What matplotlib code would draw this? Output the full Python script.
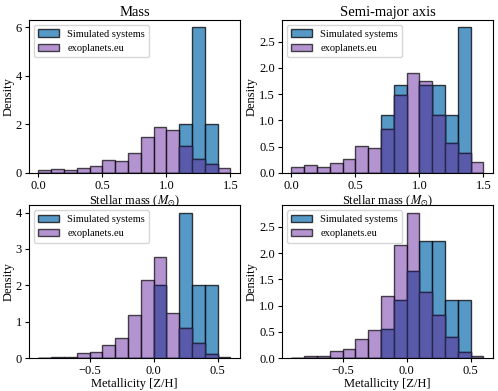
import numpy as np
import matplotlib
matplotlib.use("Agg")
import matplotlib.pyplot as plt

plt.rcParams['font.family'] = ['Liberation Serif', 'DejaVu Serif']
plt.rcParams['mathtext.fontset'] = 'stix'

# ---- data ----
mass_edges = np.round(np.arange(0.0, 1.51, 0.1), 2)
met_edges = np.round(np.arange(-0.9, 0.61, 0.1), 2)

# exoplanets.eu stellar mass density (same in both top panels)
exo_mass = [0.11, 0.14, 0.12, 0.18, 0.27, 0.51, 0.48, 0.83, 1.48, 1.90, 1.75, 1.11, 0.57, 0.37, 0.21]
# simulated systems, stellar mass: "Mass" panel
sim_mass_mass = [0, 0, 0, 0, 0, 0, 0, 0, 0, 0, 0, 2.0, 6.0, 2.0, 0]
# simulated systems, stellar mass: "Semi-major axis" panel
sim_mass_sma = [0, 0, 0, 0, 0, 0, 0, 1.111, 1.667, 0, 1.667, 1.667, 1.111, 2.778, 0]

# exoplanets.eu metallicity density
exo_met = [0.01, 0.04, 0.04, 0.14, 0.17, 0.36, 0.54, 1.19, 2.15, 2.77, 1.25, 0.83, 0.41, 0.12, 0.04]
# simulated systems metallicity
sim_met_mass = [0, 0, 0, 0, 0, 0, 0, 0, 0, 2.0, 0, 4.0, 2.0, 2.0, 0]
sim_met_sma = [0, 0, 0, 0, 0, 0, 0, 0.556, 1.111, 1.667, 2.222, 2.222, 1.111, 1.111, 0]

titles = ["Mass", "Semi-major axis"]
xlabel_top = r"Stellar mass ($M_{\odot}$)"
xlabel_bot = "Metallicity [Z/H]"
labels = ["Simulated systems", "exoplanets.eu"]

blue = '#1f77b4'
purple = '#9467bd'
dark = (90/255, 90/255, 170/255)

fig = plt.figure(figsize=(4.98, 3.91), dpi=100)
lefts = [0.058, 0.566]
width = 0.424
bottoms = [0.558, 0.084]
height = 0.391

panels = [
    (0, 0, mass_edges, sim_mass_mass, exo_mass, xlabel_top, titles[0]),
    (0, 1, mass_edges, sim_mass_sma, exo_mass, xlabel_top, titles[1]),
    (1, 0, met_edges, sim_met_mass, exo_met, xlabel_bot, None),
    (1, 1, met_edges, sim_met_sma, exo_met, xlabel_bot, None),
]

for r, c, edges, sim, exo, xl, title in panels:
    ax = fig.add_axes([lefts[c], bottoms[r], width, height])
    centers = (edges[:-1] + edges[1:]) / 2
    sim = np.array(sim, dtype=float)
    exo = np.array(exo, dtype=float)
    ax.hist(centers, bins=edges, weights=sim, color=blue, alpha=0.75,
            edgecolor='k', linewidth=1.0, label=labels[0])
    ax.hist(centers, bins=edges, weights=exo, color=purple, alpha=0.7,
            edgecolor='k', linewidth=1.0, label=labels[1])
    ov = np.minimum(sim, exo)
    ax.hist(centers, bins=edges, weights=ov, facecolor=dark,
            edgecolor=(0.15, 0.15, 0.3), linewidth=1.0, label='_nolegend_')
    ax.set_ylabel("Density", fontsize=9, labelpad=1)
    ax.set_xlabel(xl, fontsize=9, labelpad=1)
    ax.tick_params(labelsize=9, length=3, pad=2)
    if title:
        ax.set_title(title, fontsize=10.5, pad=3)
    ax.legend(loc='upper left', fontsize=7.5)
    if r == 1:
        ax.set_xticks([-0.5, 0.0, 0.5])

fig.savefig("out.png", dpi=100)
